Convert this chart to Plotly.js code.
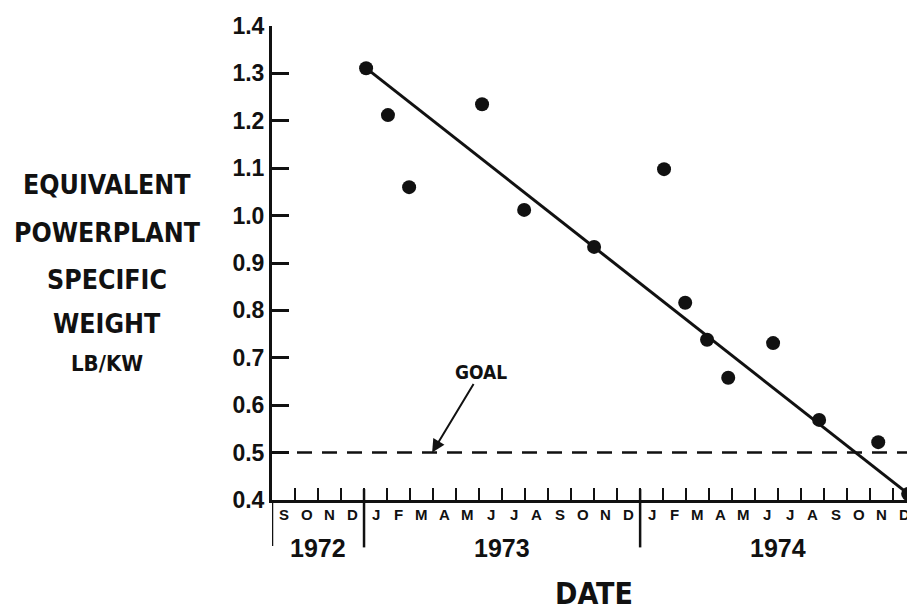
<!DOCTYPE html>
<html>
<head>
<meta charset="utf-8">
<script src="https://cdn.plot.ly/plotly-3.0.1.min.js"></script>
<style>
  html, body { margin: 0; padding: 0; background: #ffffff; }
  #chart { width: 907px; height: 613px; }
</style>
</head>
<body>
<div id="chart"></div>
<script>
// ---- data (x = months since start of Sep 1972) ----
const pointMonths = [4.09, 5.04, 5.96, 9.13, 10.96, 14.0, 17.04, 17.96, 18.91, 19.83, 21.78, 23.78, 26.35, 27.65];
const pointValues = [1.311, 1.212, 1.06, 1.235, 1.012, 0.934, 1.098, 0.816, 0.738, 0.658, 0.731, 0.569, 0.522, 0.413];
const trendMonths = [4.09, 27.65];
const trendValues = [1.311, 0.413];
const goalValue = 0.5;
const monthLetters = ['S','O','N','D','J','F','M','A','M','J','J','A','S','O','N','D','J','F','M','A','M','J','J','A','S','O','N','D'];
const years = ['1972', '1973', '1974'];
const yearCenters = [2, 10, 22];
const yearDividers = [4, 16];
const yTickVals = [0.4, 0.5, 0.6, 0.7, 0.8, 0.9, 1.0, 1.1, 1.2, 1.3, 1.4];
const yTickText = yTickVals.map(v => v.toFixed(1));
const yTitleLines = ['EQUIVALENT', 'POWERPLANT', 'SPECIFIC', 'WEIGHT', 'LB/KW'];
const goalLabel = 'GOAL';
const xTitle = 'DATE';

const INK = '#111111';
const NARROW = '"DejaVu Sans Condensed", "Liberation Sans Narrow", sans-serif';
const SANS = '"Liberation Sans", Arial, sans-serif';

const monthTicks = monthLetters.map((_, i) => i);

const traces = [
  {
    x: trendMonths, y: trendValues, mode: 'lines', type: 'scatter',
    line: { color: INK, width: 3 }, hoverinfo: 'skip', showlegend: false
  },
  {
    x: pointMonths, y: pointValues, mode: 'markers', type: 'scatter',
    marker: { color: INK, size: 14 }, showlegend: false
  }
];

const annotations = [];
// y-title lines
const yTitleY = [0.6646, 0.5654, 0.4662, 0.3734, 0.2890];
const yTitleSize = [26.5, 26.5, 26.5, 26.5, 22];
yTitleLines.forEach((t, i) => {
  annotations.push({
    xref: 'paper', yref: 'paper', x: -0.2598, y: yTitleY[i],
    xanchor: 'center', yanchor: 'middle', showarrow: false, text: t,
    font: { family: NARROW, size: yTitleSize[i], color: INK, weight: 'bold' }
  });
});
// month letters
monthLetters.forEach((m, i) => {
  annotations.push({
    xref: 'x', yref: 'paper', x: i + 0.5, y: -0.0316,
    xanchor: 'center', yanchor: 'middle', showarrow: false, text: m,
    font: { family: SANS, size: 15, color: INK, weight: 'bold' }
  });
});
// years
years.forEach((y, i) => {
  annotations.push({
    xref: 'x', yref: 'paper', x: yearCenters[i], y: -0.101,
    xanchor: 'center', yanchor: 'middle', showarrow: false, text: y,
    font: { family: SANS, size: 25, color: INK, weight: 'bold' }
  });
});
// DATE
annotations.push({
  xref: 'paper', yref: 'paper', x: 0.507, y: -0.198,
  xanchor: 'center', yanchor: 'middle', showarrow: false, text: xTitle,
  font: { family: NARROW, size: 30, color: INK, weight: 'bold' }
});
// GOAL arrow
annotations.push({
  xref: 'x', yref: 'y', x: 6.96, y: goalValue,
  ax: 49, ay: -81, text: goalLabel, showarrow: true,
  arrowhead: 2, arrowsize: 1.3, arrowwidth: 2, arrowcolor: INK, standoff: 0,
  font: { family: NARROW, size: 19, color: INK, weight: 'bold' }
});

const shapes = [
  // goal dashed line
  { type: 'line', xref: 'paper', yref: 'y', x0: 0, x1: 1, y0: goalValue, y1: goalValue,
    line: { color: INK, width: 2.5, dash: '15px,10px' } },
  // y-axis extension below axis
  { type: 'line', xref: 'x', yref: 'paper', x0: 0, x1: 0, y0: 0, y1: -0.097,
    line: { color: INK, width: 2.5 } }
];
yearDividers.forEach(d => {
  shapes.push({ type: 'line', xref: 'x', yref: 'paper', x0: d, x1: d, y0: 0.023, y1: -0.1,
    line: { color: INK, width: 2.5 } });
});

const layout = {
  width: 907, height: 613,
  margin: { l: 272, r: 0, t: 26, b: 113, pad: 0 },
  paper_bgcolor: '#ffffff', plot_bgcolor: '#ffffff',
  showlegend: false,
  xaxis: {
    range: [0, 27.6], tickmode: 'array', tickvals: monthTicks,
    ticks: 'inside', ticklen: 12, tickwidth: 2.5, tickcolor: INK,
    showticklabels: false, showline: true, linewidth: 3, linecolor: INK,
    showgrid: false, zeroline: false, fixedrange: true
  },
  yaxis: {
    range: [0.4, 1.4], tickmode: 'array', tickvals: yTickVals, ticktext: yTickText,
    ticks: 'inside', ticklen: 17, tickwidth: 3, tickcolor: INK,
    showline: true, linewidth: 3, linecolor: INK,
    showgrid: false, zeroline: false, fixedrange: true,
    tickfont: { family: SANS, size: 23, color: INK, weight: 'bold' }
  },
  annotations: annotations,
  shapes: shapes
};

Plotly.newPlot('chart', traces, layout, { displayModeBar: false, staticPlot: true });
</script>
</body>
</html>
